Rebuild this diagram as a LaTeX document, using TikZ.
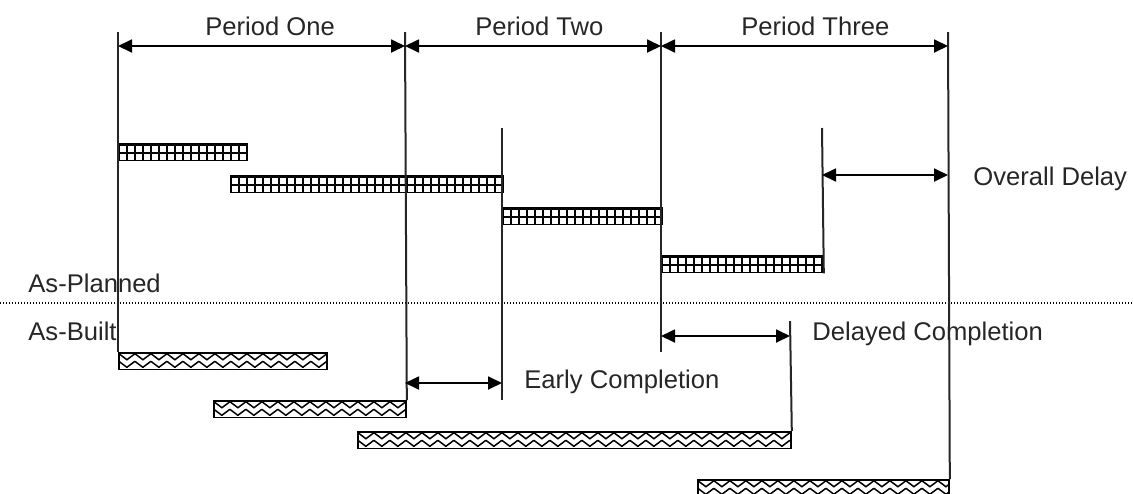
\documentclass[tikz,border=0pt]{standalone}
\usepackage{fontspec}
\setmainfont{Liberation Sans}
\usetikzlibrary{arrows.meta,positioning}

\begin{document}
\begin{tikzpicture}[
        x=0.5pt, y=-0.5pt,
        caption/.style={anchor=base west, inner sep=0pt, text=black!85, font=\fontsize{12.8}{15}\selectfont},
        guide/.style={line width=1pt, draw=black!85},
        dim/.style={{Triangle[length=7pt,width=6.5pt]}-{Triangle[length=7pt,width=6.5pt]}, line width=0.9pt},
        divider/.style={line width=0.6pt, dash pattern=on 0.6pt off 0.9pt},
        planbar/.style={draw, line width=0.9pt, fill=white, anchor=north west, inner sep=0pt, minimum height=8.3pt,
            path picture={
                \draw[line width=1.8pt] (path picture bounding box.north west) -- (path picture bounding box.north east);
                \draw[line width=0.9pt] ([yshift=-4.6pt]path picture bounding box.north west) -- ([yshift=-4.6pt]path picture bounding box.north east);
                \foreach \k in {1,...,70}
                    \draw[line width=0.9pt] ([xshift=\k*4pt]path picture bounding box.north west) -- ([xshift=\k*4pt]path picture bounding box.south west);
            }},
        builtbar/.style={draw, line width=0.9pt, fill=white, anchor=north west, inner sep=0pt, minimum height=8.3pt,
            path picture={
                \foreach \k in {0,...,35}{
                    \draw[line width=0.75pt] ([xshift=\k*8pt, yshift=-0.4pt]path picture bounding box.north west) -- ++(4pt,-3pt) -- ++(4pt,3pt);
                    \draw[line width=0.75pt] ([xshift=\k*8pt, yshift=-4.2pt]path picture bounding box.north west) -- ++(4pt,-3pt) -- ++(4pt,3pt);
                }
            }}
    ]
        \useasboundingbox (0,0) rectangle (1133,493);

        % Period boundaries
        \coordinate (b0) at (118,32);
        \coordinate (b1) at (405,32);
        \coordinate (b2) at (661,32);
        \coordinate (b3) at (948,32);
        \coordinate (b2end) at (661,352);

        % Arrow rows
        \coordinate (rowP) at (0,46);
        \coordinate (rowOD) at (0,175);
        \coordinate (rowDC) at (0,336);
        \coordinate (rowEC) at (0,383);

        % Divider
        \coordinate (divL) at (0,303);
        \coordinate (divR) at (1133,303);
        \draw[divider] (divL) -- (divR);

        % As-planned bars
        \node[planbar, minimum width=64pt] (plan1) at (118,143) {};
        \node[planbar, minimum width=136pt] (plan2) at (230,175) {};
        \node[planbar, minimum width=79.5pt] (plan3) at (502,207) {};
        \node[planbar, minimum width=80.5pt] (plan4) at (661,255) {};

        % As-built bars
        \node[builtbar, minimum width=104pt] (built1) at (118,352) {};
        \node[builtbar, minimum width=96pt] (built2) at (213,400) {};
        \node[builtbar, minimum width=216.5pt] (built3) at (357,431) {};
        \node[builtbar, minimum width=125.5pt] (built4) at (697,479) {};

        % Milestone lines
        \coordinate (early) at (502,128);
        \coordinate (earlyend) at (502,400);
        \coordinate (late) at (822,128);
        \coordinate (delay) at (790,321);

        % Labels
        \node[caption] (lblOne) at (205,35) {Period One};
        \node[caption] (lblTwo) at (475,35) {Period Two};
        \node[caption] (lblThree) at (741,35) {Period Three};
        \node[caption] (lblOverall) at (973,185) {Overall Delay};
        \node[caption] (lblPlanned) at (28,292) {As-Planned};
        \node[caption] (lblBuilt) at (28,340) {As-Built};
        \node[caption] (lblEarly) at (524,388) {Early Completion};
        \node[caption] (lblDelayed) at (812,340) {Delayed Completion};

        % Vertical lines
        \draw[guide] (b0) -- (built1.north west);
        \draw[guide] (b1) -- (built2.north east);
        \draw[guide] (b2) -- (b2end);
        \draw[guide] (b3) -- (built4.north east);
        \draw[guide] (early) -- (earlyend);
        \draw[guide] (late) -- (plan4.south east);
        \draw[guide] (delay) -- (built3.north east);

        % Arrows
        \draw[dim] (b0 |- rowP) -- (b1 |- rowP);
        \draw[dim] (b1 |- rowP) -- (b2 |- rowP);
        \draw[dim] (b2 |- rowP) -- (b3 |- rowP);
        \draw[dim] (late |- rowOD) -- (b3 |- rowOD);
        \draw[dim] (b2 |- rowDC) -- (delay |- rowDC);
        \draw[dim] (b1 |- rowEC) -- (early |- rowEC);

    \end{tikzpicture}
\end{document}
